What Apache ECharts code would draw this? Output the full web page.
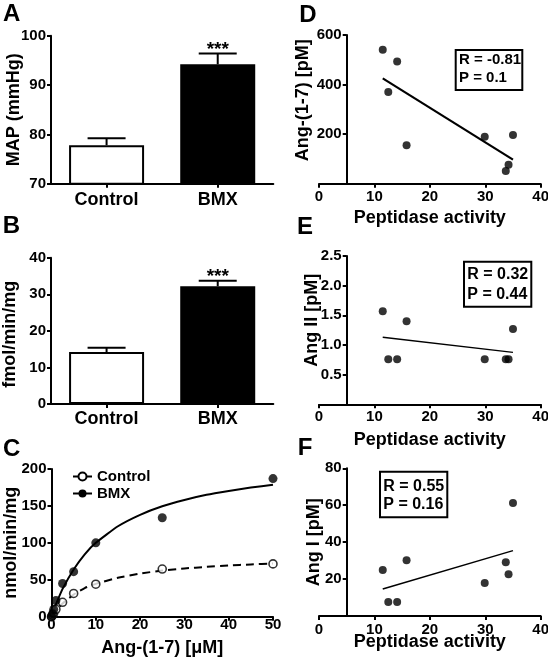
<!DOCTYPE html>
<html><head><meta charset="utf-8">
<script src="https://cdn.jsdelivr.net/npm/echarts@6/dist/echarts.min.js"></script>
<style>html,body{margin:0;padding:0;background:#fff}#c{width:548px;height:665px}</style>
</head><body><div id="c"></div>
<script>
// ---------------- data ----------------
const barCategories = ['Control', 'BMX'];
const mapMean = [77.8, 94.2];
const mapSem = [1.4, 2.2];
const activityMean = [14.2, 32.2];
const activitySem = [1.2, 1.5];
const significance = ['', '***'];
const mapRange = [70, 100, 10];
const activityRange = [0, 40, 10];

const substrateConc = [0, 0.25, 0.5, 1, 2.5, 5, 10, 25, 50];
const controlRate = [0, 2, 5, 10, 19.5, 31.5, 44, 64.5, 71.5];
const bmxRate = [0, 4, 10, 22, 45, 61, 100, 134, 187];
const fitConc = [0, 0.5, 1, 2.5, 5, 7.5, 10, 15, 20, 25, 30, 35, 40, 45, 50];
const controlFit = [0, 4.5, 8.5, 18, 30, 38.8, 44.5, 52.8, 58.4, 62.5, 65.3, 67.5, 69.4, 70.8, 72];
const bmxFit = [0, 8.7, 16.8, 37.7, 64, 84.5, 100, 122.5, 138, 149.5, 158, 165, 170.2, 174.8, 178.6];
const kineticsXRange = [0, 50, 10];
const kineticsYRange = [0, 200, 50];

const peptidaseActivity = [11.5, 12.5, 14.1, 15.8, 29.9, 33.7, 34.2, 35.0];
const ang17 = [540, 370, 493, 155, 189, 51, 76, 196];
const angII = [1.57, 0.76, 0.76, 1.40, 0.76, 0.76, 0.76, 1.27];
const angI = [24.9, 7.6, 7.6, 30.2, 17.9, 29.1, 22.6, 61.2];
const fitX = [11.5, 35];
const ang17Fit = [425, 97];
const angIIFit = [1.13, 0.877];
const angIFit = [14.6, 35.4];
const peptidaseRange = [0, 40, 10];
const ang17Range = [0, 600, 200];
const angIIRange = [0, 2.5, 0.5];
const angIRange = [0, 80, 20];
const statsD = ['R = -0.81', 'P = 0.1'];
const statsE = ['R = 0.32', 'P = 0.44'];
const statsF = ['R = 0.55', 'P = 0.16'];

// ---------------- styling ----------------
const FONT = 'Liberation Sans, Arial, Helvetica, sans-serif';
const black = '#000';
const tickLabel = {color: black, fontFamily: FONT, fontWeight: 'bold', fontSize: 15};
const nameStyle = {color: black, fontFamily: FONT, fontWeight: 'bold', fontSize: 18};
const axLine = {show: true, onZero: false, lineStyle: {color: black, width: 2}};
const axTick = {show: true, length: 4, lineStyle: {color: black, width: 2}};

function yAx(gi, range, name, gap, extra) {
  const o = {
    type: 'value', gridIndex: gi, min: range[0], max: range[1], interval: range[2],
    name: name, nameLocation: 'middle', nameGap: gap, nameMoveOverlap: false,
    nameTextStyle: Object.assign({}, nameStyle),
    axisLine: axLine, axisTick: axTick,
    axisLabel: Object.assign({margin: 5, showMinLabel: true, showMaxLabel: true}, tickLabel),
    splitLine: {show: false}
  };
  if (extra) {
    if (extra.formatter) o.axisLabel.formatter = extra.formatter;
    if (extra.offset != null) o.offset = extra.offset;
    if (extra.padding) o.nameTextStyle.padding = extra.padding;
  }
  return o;
}
function xVal(gi, range, name, gap, margin) {
  return {
    type: 'value', gridIndex: gi, min: range[0], max: range[1], interval: range[2],
    name: name, nameLocation: 'middle', nameGap: gap, nameMoveOverlap: false, nameTextStyle: nameStyle,
    axisLine: axLine, axisTick: axTick,
    axisLabel: Object.assign({margin: margin, showMinLabel: true, showMaxLabel: true}, tickLabel),
    splitLine: {show: false}
  };
}
function xCat(gi, margin) {
  return {
    type: 'category', gridIndex: gi, data: barCategories,
    axisLine: axLine,
    axisTick: {show: true, alignWithLabel: true, length: 4, lineStyle: {color: black, width: 2}},
    axisLabel: {margin: margin, color: black, fontFamily: FONT, fontWeight: 'bold', fontSize: 18}
  };
}
function barSeries(gi, means) {
  return {
    type: 'bar', xAxisIndex: gi, yAxisIndex: gi, barWidth: 75, clip: true,
    data: means.map((m, i) => ({value: m, itemStyle: {color: i === 0 ? '#fff' : black, borderColor: black, borderWidth: 2}})),
    z: 2
  };
}
function errSeries(gi, means, sems) {
  return {
    type: 'custom', xAxisIndex: gi, yAxisIndex: gi, z: 5, clip: false,
    data: means.map((m, i) => [i, m, sems[i]]),
    encode: {x: 0, y: 1},
    renderItem: function (params, api) {
      const i = api.value(0), m = api.value(1), e = api.value(2);
      const base = api.coord([i, m]);
      const top = api.coord([i, m + e]);
      const half = 19;
      const ch = [
        {type: 'line', shape: {x1: base[0], y1: base[1], x2: top[0], y2: top[1]}, style: {stroke: black, lineWidth: 2}},
        {type: 'line', shape: {x1: top[0] - half, y1: top[1], x2: top[0] + half, y2: top[1]}, style: {stroke: black, lineWidth: 2}}
      ];
      const s = significance[params.dataIndex];
      if (s) ch.push({type: 'text', x: top[0], y: top[1] - 4, style: {text: s, fill: black, font: 'bold 19px ' + FONT, align: 'center', verticalAlign: 'middle'}});
      return {type: 'group', children: ch};
    }
  };
}
const hideZero = v => (v === 0 ? '' : String(v));
const hideZero1 = v => (v === 0 ? '' : v.toFixed(1));

function pts(xs, ys) { return xs.map((x, i) => [x, ys[i]]); }
function corrScatter(gi, ys) {
  return {type: 'scatter', xAxisIndex: gi, yAxisIndex: gi, symbol: 'circle', symbolSize: 8,
    itemStyle: {color: black}, data: pts(peptidaseActivity, ys), clip: false, z: 4};
}
function corrLine(gi, ys, w) {
  return {type: 'line', xAxisIndex: gi, yAxisIndex: gi, showSymbol: false, symbol: 'none',
    lineStyle: {color: black, width: w}, data: pts(fitX, ys), z: 3};
}
function statBox(x, y, w, h, lines, tx, ty1, ty2, fs) {
  return {type: 'group', children: [
    {type: 'rect', shape: {x: x, y: y, width: w, height: h}, style: {fill: '#fff', stroke: black, lineWidth: 2}},
    {type: 'text', x: tx, y: ty1, style: {text: lines[0], fill: black, font: 'bold ' + fs + 'px ' + FONT, align: 'left', verticalAlign: 'middle'}},
    {type: 'text', x: tx, y: ty2, style: {text: lines[1], fill: black, font: 'bold ' + fs + 'px ' + FONT, align: 'left', verticalAlign: 'middle'}}
  ]};
}
function letter(t, x, y) {
  return {type: 'text', x: x, y: y, style: {text: t, fill: black, font: 'bold 24px ' + FONT, align: 'center', verticalAlign: 'middle'}};
}

const option = {
  animation: false,
  backgroundColor: '#fff',
  grid: [
    {left: 51, top: 35.7, width: 222.3, height: 148, outerBoundsMode: 'none'},
    {left: 51, top: 257.7, width: 222.3, height: 146.3, outerBoundsMode: 'none'},
    {left: 51.5, top: 469, width: 221.5, height: 147.7, outerBoundsMode: 'none'},
    {left: 319, top: 35, width: 221.7, height: 148.7, outerBoundsMode: 'none'},
    {left: 319, top: 256, width: 221.7, height: 148.3, outerBoundsMode: 'none'},
    {left: 319, top: 468.3, width: 221.7, height: 147.7, outerBoundsMode: 'none'}
  ],
  xAxis: [
    xCat(0, 7),
    xCat(1, 6.5),
    xVal(2, kineticsXRange, 'Ang-(1-7) [\u03BCM]', 22, 1),
    xVal(3, peptidaseRange, 'Peptidase activity', 25, 6),
    xVal(4, peptidaseRange, 'Peptidase activity', 27, 5),
    xVal(5, peptidaseRange, 'Peptidase activity', 17, 6)
  ],
  yAxis: [
    yAx(0, mapRange, 'MAP (mmHg)', 28),
    yAx(1, activityRange, 'fmol/min/mg', 32, {padding: [0, 7, 0, 0]}),
    yAx(2, kineticsYRange, 'nmol/min/mg', 31),
    yAx(3, ang17Range, 'Ang-(1-7) [pM]', 35, {formatter: hideZero, offset: -27.7, padding: [0, 0, 0, 18]}),
    yAx(4, angIIRange, 'Ang II [pM]', 26, {formatter: hideZero1, offset: -27.7, padding: [0, 0, 0, 20]}),
    yAx(5, angIRange, 'Ang I [pM]', 24, {formatter: hideZero, offset: -27.7})
  ],
  legend: {
    data: ['Control', 'BMX'], orient: 'vertical', left: 67, top: 463,
    itemWidth: 19, itemHeight: 10, itemGap: 0,
    textStyle: {color: black, fontFamily: FONT, fontWeight: 'bold', fontSize: 15, lineHeight: 17}
  },
  series: [
    barSeries(0, mapMean), errSeries(0, mapMean, mapSem),
    barSeries(1, activityMean), errSeries(1, activityMean, activitySem),
    {name: 'Control', type: 'line', xAxisIndex: 2, yAxisIndex: 2, smooth: 0.15,
      showSymbol: false, symbol: 'emptyCircle', itemStyle: {color: black},
      lineStyle: {color: black, width: 2, type: [8, 5]}, data: pts(fitConc, controlFit), z: 2},
    {name: 'BMX', type: 'line', xAxisIndex: 2, yAxisIndex: 2, smooth: 0.15,
      showSymbol: false, symbol: 'circle', itemStyle: {color: black},
      lineStyle: {color: black, width: 2}, data: pts(fitConc, bmxFit), z: 2},
    {name: 'Control data', type: 'scatter', xAxisIndex: 2, yAxisIndex: 2, symbol: 'circle', symbolSize: 8, clip: false,
      itemStyle: {color: '#fff', borderColor: black, borderWidth: 1.6}, data: pts(substrateConc, controlRate), z: 4},
    {name: 'BMX data', type: 'scatter', xAxisIndex: 2, yAxisIndex: 2, symbol: 'circle', symbolSize: 9, clip: false,
      itemStyle: {color: black}, data: pts(substrateConc, bmxRate), z: 5},
    corrLine(3, ang17Fit, 2.2), corrScatter(3, ang17),
    corrLine(4, angIIFit, 1.3), corrScatter(4, angII),
    corrLine(5, angIFit, 1.5), corrScatter(5, angI)
  ],
  graphic: [
    letter('A', 11.7, 14.8), letter('B', 11.3, 226), letter('C', 11.7, 449.5),
    letter('D', 308, 15), letter('E', 305, 227), letter('F', 305, 448.5),
    statBox(455.7, 50, 66.6, 40, statsD, 459, 59.5, 77.8, 15),
    statBox(464, 261.7, 67.3, 45, statsE, 467.3, 274.5, 294.5, 16),
    statBox(380, 471.7, 67.3, 45.6, statsF, 383.3, 486.2, 504.5, 16)
  ]
};
const chart = echarts.init(document.getElementById('c'));
chart.setOption(option);
</script>
</body></html>
